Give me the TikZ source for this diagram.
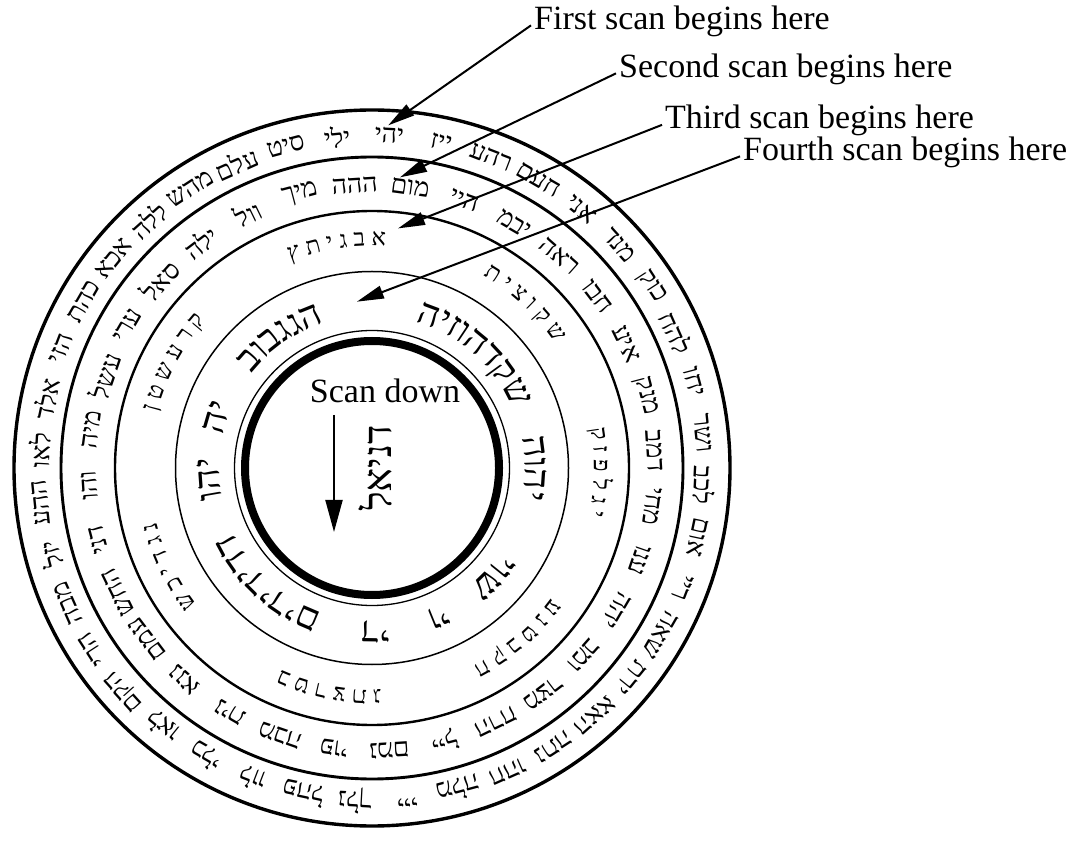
\documentclass[tikz,border=0pt]{standalone}
\usepackage{fontspec}
\setmainfont{Liberation Serif}
\newfontfamily\hebfont[Script=Hebrew]{Liberation Serif}
\TeXXeTstate=1
\usetikzlibrary{arrows.meta,calc,decorations.text}
\newcommand\rnames{\hebfont\fontsize{26.5}{30}\selectfont}
\newcommand\rthree{\hebfont\fontsize{24}{28}\selectfont}
\newcommand\rfour{\hebfont\fontsize{37}{40}\selectfont}

\begin{document}
\begin{tikzpicture}[x=1pt,y=1pt,
  lbl/.style={font=\fontsize{34}{40}\selectfont,anchor=base west,inner sep=0pt},
  scanarr/.style={-{Triangle[length=27pt,width=13pt]},line width=2pt},
  ringname/.style={font=\rnames,inner sep=0pt}
]
\useasboundingbox (0,0) rectangle (1078,844);
\coordinate (c) at (372,376);
% the rings
\draw[line width=3.4pt] (c) circle[radius=358];
\draw[line width=2.9pt] (c) circle[radius=311];
\draw[line width=2.4pt] (c) circle[radius=257];
\draw[line width=1.5pt] (c) circle[radius=196.5];
\draw[line width=1.3pt] (c) circle[radius=137.5];
\draw[line width=8pt] (c) circle[radius=127];
% first ring
\foreach \nm [count=\i] in {יהי,ילי,סיט,עלם,מהש,ללה,אכא,כהת,הזי,אלד,לאו,ההע,יזל,מבה,הרי,הקם,לאו,כלי,לוו,פהל,נלך,ייי,מלה,חהו,נתה,האא,ירת,שאה,ריי,אום,לכב,ושר,יחו,להח,כוק,מנד,אני,חעם,רהע,ייז}{
  \pgfmathsetmacro\a{87+9*(\i-1)}
  \node[ringname,rotate=\a-90] (n\i) at ($(c)+(\a:333)$) {\beginR\nm\endR};
}
% second ring
\foreach \nm [count=\i] in {ההה,מיך,וול,ילה,סאל,ערי,עשל,מיה,והו,דני,החש,עמם,ננא,נית,מבה,פוי,נמם,ייל,הרח,מצר,ומב,יהה,ענו,מחי,דמב,מנק,איע,חבו,ראה,יבמ,היי,מום}{
  \pgfmathsetmacro\a{93.5+11.25*(\i-1)}
  \node[ringname,rotate=\a-90] (m\i) at ($(c)+(\a:283)$) {\beginR\nm\endR};
}
% third ring (letters given right to left)
\foreach \a/\w in {99/ץ ת י ג ב א,152/ן ט ש ע ר ק,206/ש כ י ד ג נ,259/ג ת צ ר ט ב,
                   310.5/ע נ ט ב ק ח,359/ק ז פ ל ג י,47/ת י צ ו ק ש}
  \path[decorate,decoration={text along path,text align=center,
        text/.expanded={|\noexpand\rthree|\w}}]
    ($(c)+(\a+40:222)$) arc[start angle=\a+40,end angle=\a-40,radius=222];
% fourth ring
\foreach \a/\w in {125/בובגגה,162/הי,184/והי,228/םידידידד,271/יד,294/יו,318/יוש,0/הוהי,48/היזוהדקש}
  \path[decorate,decoration={text along path,text align=center,
        text/.expanded={|\noexpand\rfour|\w}}]
    ($(c)+(\a+70:153)$) arc[start angle=\a+70,end angle=\a-70,radius=153];
% centre
\node[font=\fontsize{34}{40}\selectfont] (scandown) at (385,453) {Scan down};
\node[rotate=90,font=\hebfont\fontsize{40}{44}\selectfont] (angel) at (375,376) {\beginR דניאל\endR};
\coordinate (downtop) at (334,429);
\coordinate (downbot) at (334,312);
\draw[-{Triangle[length=32pt,width=17pt]},line width=2pt] (downtop) -- (downbot);
% labels and arrows
\node[lbl] (first) at (534,814.5) {First scan begins here};
\node[lbl] (second) at (619,766.5) {Second scan begins here};
\node[lbl] (third) at (665,715) {Third scan begins here};
\node[lbl] (fourth) at (743,683.5) {Fourth scan begins here};
\coordinate (tip1) at ($(c)+(87.3:343)$);
\coordinate (tip2) at ($(c)+(84.5:292)$);
\coordinate (tip3) at ($(c)+(83.8:241)$);
\coordinate (tip4) at ($(c)+(95.2:167)$);
\draw[scanarr] ([xshift=-3pt,yshift=-4pt]first.west) -- (tip1);
\draw[scanarr] ([xshift=-3pt,yshift=-4pt]second.west) -- (tip2);
\draw[scanarr] ([xshift=-3pt,yshift=-4pt]third.west) -- (tip3);
\draw[scanarr] ([xshift=-3pt,yshift=-4pt]fourth.west) -- (tip4);
\end{tikzpicture}
\end{document}
